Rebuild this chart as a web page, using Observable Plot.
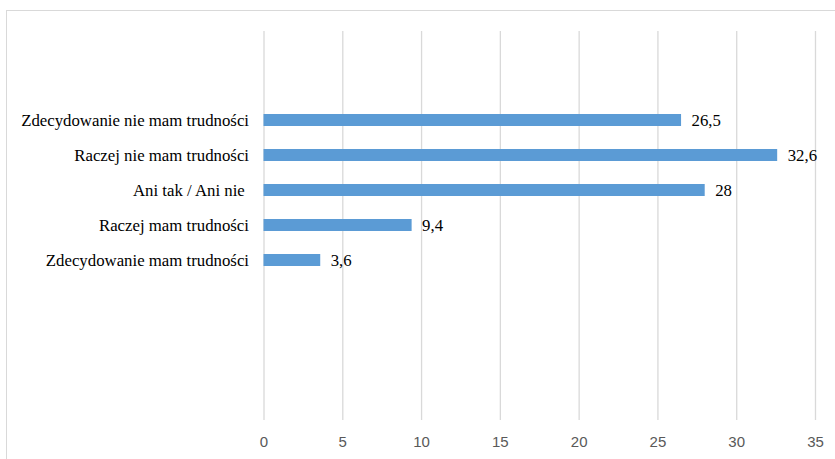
<!DOCTYPE html>
<html>
<head>
<meta charset="utf-8">
<script src="https://cdn.jsdelivr.net/npm/d3@7"></script>
<script src="https://cdn.jsdelivr.net/npm/@observablehq/plot@0.6"></script>
<style>
  html, body { margin: 0; padding: 0; background: #fff; overflow: hidden; }
  #wrap { position: relative; width: 835px; height: 459px; }
  #frame { position: absolute; left: 6px; top: 10px; width: 900px; height: 520px;
           border-top: 1.5px solid #d9d9d9; border-left: 1.5px solid #d9d9d9; }
  #chart { position: absolute; left: 0; top: 0; }
  .serif text { font-family: "Liberation Serif", "Times New Roman", "DejaVu Serif", serif; }
  .sans text { font-family: "Liberation Sans", Arial, sans-serif; }
</style>
</head>
<body>
<div id="wrap"><div id="frame"></div><div id="chart"></div></div>
<script>
// Survey answers, top to bottom, and their shares (%)
const categories = [
  "Zdecydowanie nie mam trudności",
  "Raczej nie mam trudności",
  "Ani tak / Ani nie ",
  "Raczej mam trudności",
  "Zdecydowanie mam trudności"
];
const values = [26.5, 32.6, 28, 9.4, 3.6];
const xTicks = [0, 5, 10, 15, 20, 25, 30, 35];

const data = categories.map((c, i) => ({category: c, value: values[i]}));
const fmt = v => String(v).replace(".", ",");

const W = 835, H = 459;
const mTop = 31, mBottom = 39;
// the answers occupy rows 2..6 of an 11-row category layout
const rows = 11, step = (H - mTop - mBottom) / rows;
const yRange = [mTop + 2 * step, mTop + 7 * step];

const chart = Plot.plot({
  width: W,
  height: H,
  marginLeft: 263.5,
  marginRight: 20,
  marginTop: mTop,
  marginBottom: mBottom,
  style: {background: "transparent", overflow: "visible"},
  x: {domain: [0, 35], ticks: xTicks},
  y: {domain: categories, range: yRange, paddingInner: 0.65, paddingOuter: 0.325},
  marks: [
    Plot.gridX(xTicks, {stroke: "#d9d9d9", strokeOpacity: 1, strokeWidth: 1.3}),
    Plot.barX(data, {x: "value", y: "category", fill: "#5b9bd5"}),
    Plot.text(data, {
      x: "value", y: "category", text: d => fmt(d.value),
      textAnchor: "start", dx: 10, fill: "#000",
      fontSize: 16.8, className: "serif"
    }),
    Plot.axisX(xTicks, {
      tickSize: 0, tickPadding: 16, label: null,
      fontSize: 15, fill: "#595959", className: "sans"
    }),
    Plot.axisY({
      tickSize: 0, tickPadding: 15, label: null,
      fontSize: 16.8, fill: "#000", className: "serif"
    })
  ]
});
document.getElementById("chart").appendChild(chart);
</script>
</body>
</html>
